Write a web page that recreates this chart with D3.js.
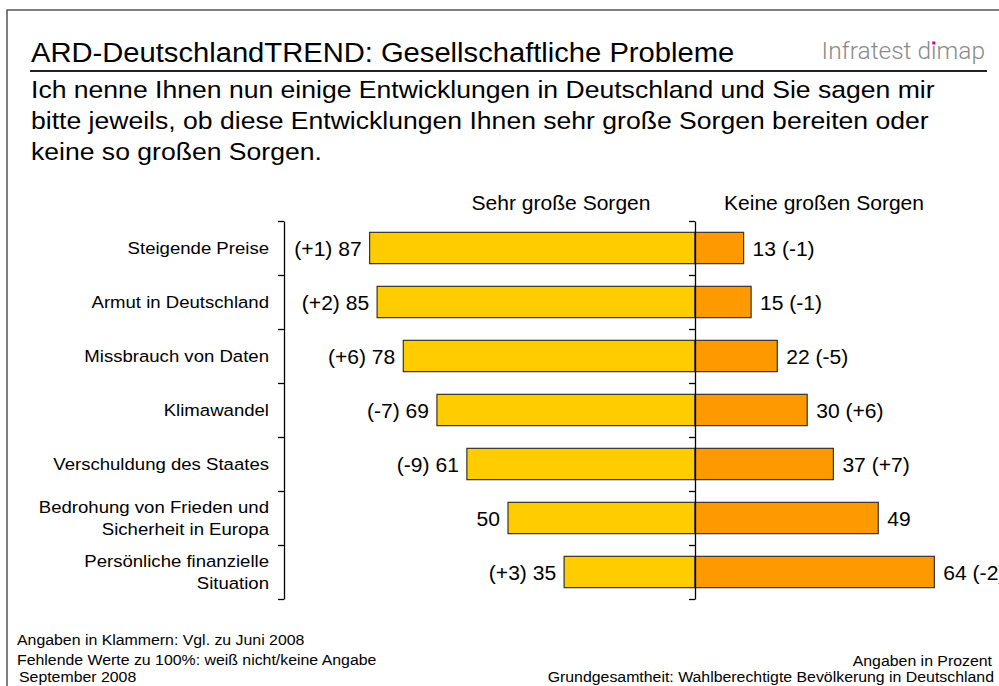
<!DOCTYPE html>
<html>
<head>
<meta charset="utf-8">
<script src="https://cdn.jsdelivr.net/npm/d3@7"></script>
<style>
  body { margin: 0; background: #fff; }
  text { font-family: "Liberation Sans", Arial, sans-serif; fill: #000; }
</style>
</head>
<body>
<div id="chart"></div>
<script>
// chart data
var categories = [
  "Steigende Preise",
  "Armut in Deutschland",
  "Missbrauch von Daten",
  "Klimawandel",
  "Verschuldung des Staates",
  "Bedrohung von Frieden und|Sicherheit in Europa",
  "Persönliche finanzielle|Situation"
];
var sehrGross = [87, 85, 78, 69, 61, 50, 35];
var sehrGrossDiff = ["+1", "+2", "+6", "-7", "-9", null, "+3"];
var keineGross = [13, 15, 22, 30, 37, 49, 64];
var keineGrossDiff = ["-1", "-1", "-5", "+6", "+7", null, "-2"];

var seriesNames = ["Sehr große Sorgen", "Keine großen Sorgen"];
var titleText = "ARD-DeutschlandTREND: Gesellschaftliche Probleme";
var subtitleLines = [
  "Ich nenne Ihnen nun einige Entwicklungen in Deutschland und Sie sagen mir",
  "bitte jeweils, ob diese Entwicklungen Ihnen sehr große Sorgen bereiten oder",
  "keine so großen Sorgen."
];
var footLeft = [
  "Angaben in Klammern: Vgl. zu Juni 2008",
  "Fehlende Werte zu 100%: weiß nicht/keine Angabe",
  "September 2008"
];
var footRight = [
  "Angaben in Prozent",
  "Grundgesamtheit: Wahlberechtigte Bevölkerung in Deutschland"
];

var svgWidth = 999;
var svgHeight = 686;
// the original slide is a bit stretched horizontally
var SX = 1.08;

var svg = d3.select("#chart")
  .append("svg")
  .attr("width", svgWidth)
  .attr("height", svgHeight);

// helper for stretched text
function addText(parent, x, y, str, size, anchor) {
  return parent.append("text")
    .attr("transform", `translate(${x},${y}) scale(${SX},1)`)
    .attr("text-anchor", anchor || "start")
    .style("font-size", size + "px")
    .text(str);
}

// slide frame
svg.append("rect")
  .attr("x", 7)
  .attr("y", 10)
  .attr("width", 1010)
  .attr("height", 700)
  .attr("fill", "none")
  .attr("stroke", "#555")
  .attr("stroke-width", 1.5);

// header
addText(svg, 31, 62, titleText, 27);

var logo = svg.append("text")
  .attr("x", 985)
  .attr("y", 59)
  .attr("text-anchor", "end")
  .style("font-family", "Roboto, 'Liberation Sans', sans-serif")
  .style("font-weight", 300)
  .style("font-size", "24.5px")
  .style("fill", "#8a8a8a")
  .text("Infratest d\u0131map");

// pink dot of the i in dimap
var box = logo.node().getExtentOfChar(11);
svg.append("rect")
  .attr("x", box.x + box.width / 2 - 1.5)
  .attr("y", 41.5)
  .attr("width", 3)
  .attr("height", 3)
  .attr("fill", "#d4006e");

svg.append("line")
  .attr("x1", 30)
  .attr("x2", 987)
  .attr("y1", 71)
  .attr("y2", 71)
  .attr("stroke", "#222")
  .attr("stroke-width", 2);

subtitleLines.forEach(function(line, i) {
  addText(svg, 31, 98 + i * 31, line, 24.6);
});

// chart area
var center = 695;
var axisLeftX = 284;

var y = d3.scaleBand()
  .domain(categories)
  .range([221, 599])
  .padding(0);

var yTicks = d3.scaleLinear()
  .domain([0, categories.length])
  .range([221, 599]);

var x = d3.scaleLinear()
  .domain([0, 100])
  .range([0, 374]);

var barH = y.bandwidth() * 0.58;
var barOff = (y.bandwidth() - barH) / 2;

var rows = categories.map(function(c, i) {
  return {
    cat: c,
    sehr: sehrGross[i],
    sehrDiff: sehrGrossDiff[i],
    keine: keineGross[i],
    keineDiff: keineGrossDiff[i]
  };
});

// column headers
addText(svg, 561, 210, seriesNames[0], 19.5, "middle");
addText(svg, 824, 210, seriesNames[1], 19.5, "middle");

// bars
svg.selectAll(".barSehr")
  .data(rows)
  .enter()
  .append("rect")
  .classed("barSehr", true)
  .attr("x", d => center - x(d.sehr))
  .attr("y", d => y(d.cat) + barOff)
  .attr("width", d => x(d.sehr))
  .attr("height", barH)
  .attr("fill", "#ffcc00")
  .attr("stroke", "#333")
  .attr("stroke-width", 1.2);

svg.selectAll(".barKeine")
  .data(rows)
  .enter()
  .append("rect")
  .classed("barKeine", true)
  .attr("x", center)
  .attr("y", d => y(d.cat) + barOff)
  .attr("width", d => x(d.keine))
  .attr("height", barH)
  .attr("fill", "#ff9900")
  .attr("stroke", "#333")
  .attr("stroke-width", 1.2);

// axes
function bandAxis(xPos) {
  svg.append("g")
    .attr("transform", `translate(${xPos},0)`)
    .call(d3.axisLeft(yTicks)
      .tickValues(d3.range(categories.length + 1))
      .tickSize(6)
      .tickSizeOuter(0)
      .tickFormat(""))
    .call(g => g.selectAll("path, line").attr("stroke", "#000").attr("stroke-width", 1.3));
}
bandAxis(axisLeftX);
bandAxis(center);

// category labels
rows.forEach(function(d) {
  var lines = d.cat.split("|");
  var mid = y(d.cat) + y.bandwidth() / 2;
  lines.forEach(function(line, j) {
    var yy = mid + 6 + (j - (lines.length - 1) / 2) * 22;
    addText(svg, 269, yy, line, 17.2, "end");
  });
});

// value labels
rows.forEach(function(d) {
  var mid = y(d.cat) + y.bandwidth() / 2 + 7.5;
  var left = d.sehrDiff ? `(${d.sehrDiff}) ${d.sehr}` : `${d.sehr}`;
  var right = d.keineDiff ? `${d.keine} (${d.keineDiff})` : `${d.keine}`;
  addText(svg, center - x(d.sehr) - 8, mid, left, 19.5, "end");
  addText(svg, center + x(d.keine) + 9, mid, right, 19.5, "start");
});

// footer
addText(svg, 17, 645, footLeft[0], 14.7);
addText(svg, 17, 665, footLeft[1], 14.7);
addText(svg, 19, 682, footLeft[2], 14.7);
addText(svg, 992, 666, footRight[0], 14.7, "end");
addText(svg, 994, 682, footRight[1], 14.7, "end");
</script>
</body>
</html>
